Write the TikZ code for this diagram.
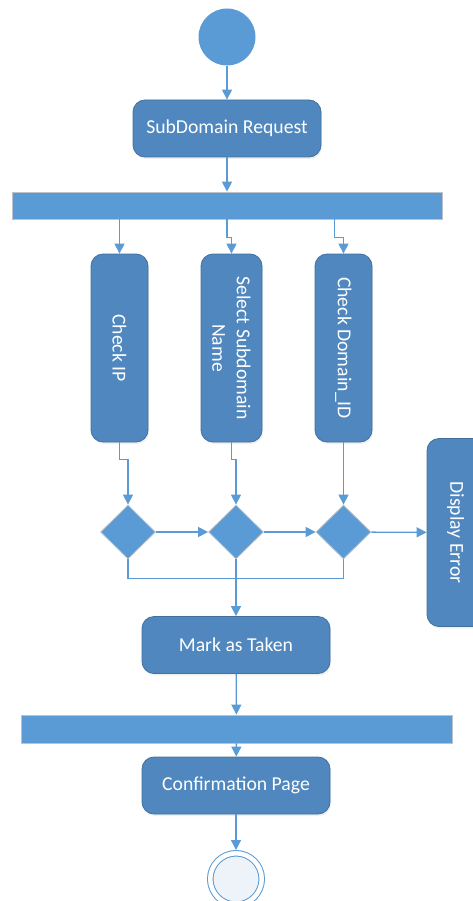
\documentclass[tikz,border=0pt]{standalone}
\usepackage{fontspec}
\setmainfont{Carlito}
\usetikzlibrary{shapes.geometric, arrows.meta, calc, shadows}
\definecolor{actfill}{HTML}{4F87BE}
\definecolor{actline}{HTML}{41719C}
\definecolor{flow}{HTML}{5B9BD5}
\definecolor{barline}{HTML}{BCC3CB}
\definecolor{endfill}{HTML}{EEF3FA}

\begin{document}
\begin{tikzpicture}[x=1pt,y=-1pt,
	act/.style={draw=actline, fill=actfill, rounded corners=12pt, line width=0.8pt, text=white, inner sep=0pt, minimum width=188pt, minimum height=57pt, font=\fontsize{19.7}{24.5}\selectfont, drop shadow={opacity=0.12, shadow xshift=1pt, shadow yshift=-2pt}},
	vact/.style={act, minimum width=57pt, minimum height=188pt},
	vtext/.style={rotate=-90, text=white, align=center, font=\fontsize{19.7}{24.5}\selectfont},
	bar/.style={draw=barline, fill=flow, line width=0.8pt, inner sep=0pt, minimum height=27pt},
	branch/.style={diamond, draw=barline, fill=flow, line width=0.8pt, inner sep=0pt, minimum width=55pt, minimum height=54pt},
	flowline/.style={draw=flow, line width=1.3pt},
	flowarrow/.style={flowline, -{Triangle[width=10pt,length=10pt]}}]
	  \useasboundingbox (0,0) rectangle (473,901);
	  \node at (227,37) (start) [circle, fill=flow, inner sep=0pt, minimum size=57pt]{};
	  \node at (227,128.5) (req) [act]{SubDomain Request};
	  \node at (227,205.5) (fork1) [bar, minimum width=430pt]{};
	  \node at (119.5,348) (ci) [vact, label={[vtext]center:Check IP}]{};
	  \node at (231.5,348) (sel) [vact, minimum width=61pt, label={[vtext]center:Select Subdomain\\Name}]{};
	  \node at (343.5,348) (dom) [vact, label={[vtext]center:Check Domain\_ID}]{};
	  \node at (128,532) (d1) [branch]{};
	  \node at (236,532) (d2) [branch]{};
	  \node at (343.5,532) (d3) [branch]{};
	  \node at (455.5,532.5) (err) [vact, label={[vtext]center:Display Error}]{};
	  \node at (236,645) (mark) [act]{Mark as Taken};
	  \node at (236.5,729) (join) [bar, minimum width=431pt, minimum height=28pt]{};
	  \node at (236,785.5) (conf) [act]{Confirmation Page};
	  \node at (236,879) (stop) [circle, draw=flow, line width=1pt, double=white, double distance=4.5pt, fill=endfill, inner sep=0pt, minimum size=51.5pt, outer sep=3.25pt]{};
	  \draw[flowarrow] (start) -- (req);
	  \draw[flowarrow] (req) -- (fork1);
	  \draw[flowarrow] (ci.north |- fork1.south) -- (ci);
	  \draw[flowarrow] (req.south |- fork1.south) -- ++(0,18) -| (sel.north);
	  \draw[flowarrow] ($(dom.north |- fork1.south)+(-9,0)$) -- ++(0,18) -| (dom.north);
	  \draw[flowarrow] (ci.south) -- ++(0,17) -| (d1.north);
	  \draw[flowarrow] (sel.south) -- ++(0,17) -| (d2.north);
	  \draw[flowarrow] (dom) -- (d3);
	  \draw[flowarrow] (d1) -- (d2);
	  \draw[flowarrow] (d2) -- (d3);
	  \draw[flowarrow] (d3) -- (err);
	  \draw[flowline] (d1.south) -- ++(0,19) -| (d3.south);
	  \draw[flowarrow] (d2) -- (mark);
	  \draw[flowarrow] (mark) -- (join);
	  \draw[flowarrow] (join) -- (conf);
	  \draw[flowarrow] (conf) -- (stop);
	\end{tikzpicture}
\end{document}
